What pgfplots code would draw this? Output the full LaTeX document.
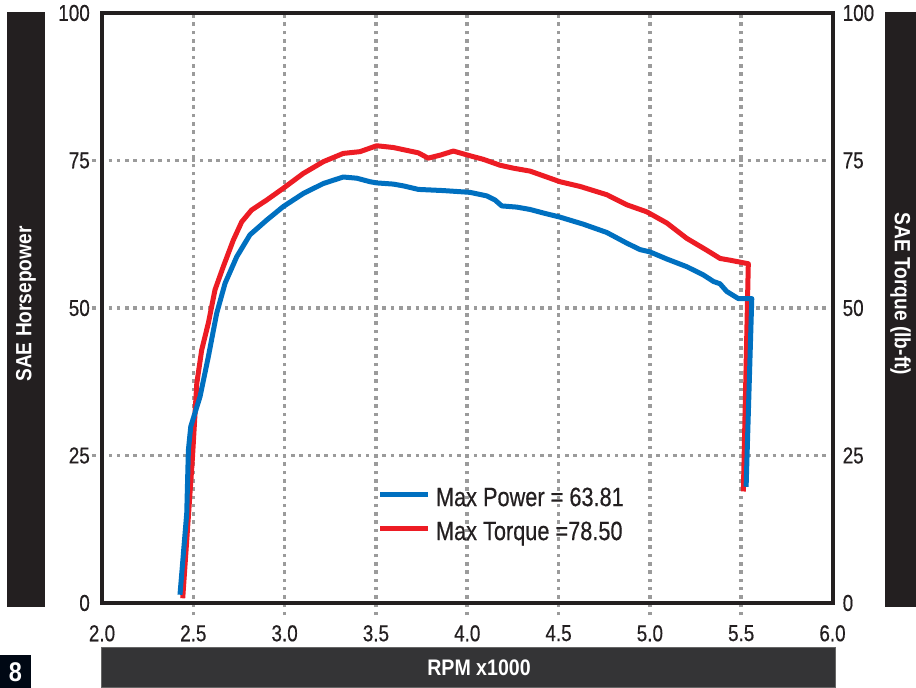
\documentclass[border=0pt]{standalone}
\usepackage{fontspec}
\setmainfont{Liberation Sans}[FakeStretch=0.82, FakeBold=0.45]
\newfontfamily\labfont{Liberation Sans}[FakeStretch=0.87]
\usepackage{pgfplots}
\pgfplotsset{compat=1.18}
\definecolor{ink}{HTML}{231F20}
\definecolor{barc}{HTML}{231F20}
\definecolor{botc}{HTML}{343436}
\definecolor{eightc}{HTML}{000814}
\definecolor{gridc}{RGB}{155,155,155}
\definecolor{pblue}{HTML}{0070C0}
\definecolor{tred}{HTML}{ED1C24}
\begin{document}
\begin{tikzpicture}[x=1pt,y=1pt]
\path (0,0) rectangle (916,688);
% side and bottom bars
\fill[barc] (7,81) rectangle (45,676);
\fill[barc] (885,81) rectangle (916,676);
\filldraw[fill=botc, draw=black!60, line width=1pt] (101.5,0) rectangle (835.5,40);
\fill[eightc] (0,0) rectangle (31,33);
\node[white, font=\labfont\bfseries\fontsize{27}{30}\selectfont] at (15.5,16) {8};
\node[rotate=90, white, font=\labfont\bfseries\fontsize{22}{26}\selectfont] at (26,384) {SAE Horsepower};
\node[rotate=-90, white, font=\labfont\bfseries\fontsize{22}{26}\selectfont] at (900.5,394) {SAE Torque (lb-ft)};
\node[white, font=\labfont\bfseries\fontsize{22.5}{26}\selectfont] at (479,20) {RPM x1000};

\begin{axis}[
  at={(102pt,85pt)}, anchor=south west,
  width=730.5pt, height=590pt, scale only axis,
  xmin=2, xmax=6, ymin=0, ymax=100,
  xtick={2,2.5,3,3.5,4,4.5,5,5.5,6},
  xticklabels={2.0,2.5,3.0,3.5,4.0,4.5,5.0,5.5,6.0},
  ytick={0,25,50,75,100},
  major tick length=0pt,
  tick style={draw=none},
  /pgf/number format/assume math mode=true,
  ticklabel style={font=\fontsize{23}{27}\selectfont, text=ink},
  xticklabel style={anchor=north, inner sep=0pt, yshift=-22pt},
  yticklabel style={anchor=east, inner sep=0pt, xshift=-12pt},
  axis line style={draw=ink, line width=4pt},
  axis on top,
  clip=false,
  reverse legend,
  legend cell align=left,
  legend style={at={(axis cs:3.51,19.6)}, anchor=north west, draw=none, fill=none,
    font=\fontsize{26.5}{30}\selectfont, text=ink, inner sep=0pt, row sep=14pt, column sep=5pt,
    nodes={inner sep=0pt}},
  legend image code/.code={\draw[#1, line width=5pt] (0pt,0.33em) -- (48pt,0.33em);},
]
% dotted grid (extends slightly outside the frame)
\foreach \gx in {2.5,3,3.5,4,4.5,5,5.5} {
  \edef\tmp{\noexpand\draw[gridc, line width=3.6pt, dash pattern=on 3.6pt off 4.7pt] (axis cs:\gx,-2.1) -- (axis cs:\gx,100);}
  \tmp
}
\foreach \gy in {25,50,75} {
  \edef\tmp{\noexpand\draw[gridc, line width=3.6pt, dash pattern=on 3.6pt off 4.7pt] (axis cs:1.945,\gy) -- (axis cs:6.03,\gy);}
  \tmp
}
\addplot[tred, line width=5pt, line join=round, line cap=butt] coordinates {
(2.442,0.8) (2.495,24.5) (2.519,37.2) (2.546,42.9) (2.582,47.4) (2.619,53.1)
(2.664,57.0) (2.719,61.5) (2.765,64.6) (2.819,66.6) (2.902,68.3) (2.993,70.3)
(3.102,72.8) (3.212,74.8) (3.321,76.2) (3.413,76.5) (3.504,77.5) (3.595,77.2)
(3.732,76.3) (3.786,75.4) (3.851,75.9) (3.924,76.6) (4.015,75.8) (4.088,75.2)
(4.179,74.2) (4.252,73.7) (4.344,73.2) (4.417,72.4) (4.508,71.4) (4.618,70.6)
(4.764,69.2) (4.873,67.5) (4.983,66.3) (5.093,64.4) (5.202,61.8) (5.311,59.8)
(5.384,58.4) (5.439,58.1) (5.539,57.5) (5.512,18.9)
};
\addlegendentry{Max Torque =78.50}
\addplot[pblue, line width=5pt, line join=round, line cap=butt] coordinates {
(2.427,1.4) (2.464,15.2) (2.473,25.9) (2.486,29.9) (2.537,35.0) (2.582,41.7)
(2.628,49.1) (2.674,54.2) (2.738,58.7) (2.810,62.4) (2.902,64.9) (2.993,67.2)
(3.102,69.4) (3.212,71.1) (3.321,72.2) (3.395,72.0) (3.468,71.4) (3.504,71.2)
(3.595,71.0) (3.650,70.7) (3.732,70.1) (3.869,69.9) (4.015,69.6) (4.107,69.0)
(4.152,68.3) (4.189,67.3) (4.271,67.1) (4.344,66.7) (4.417,66.1) (4.508,65.4)
(4.636,64.2) (4.764,62.8) (4.873,61.0) (4.946,59.9) (5.001,59.5) (5.093,58.3)
(5.202,57.0) (5.293,55.6) (5.348,54.5) (5.384,54.1) (5.421,52.8) (5.484,51.6)
(5.558,51.6) (5.527,19.7)
};
\addlegendentry{Max Power = 63.81}
\end{axis}

\begin{axis}[
  at={(102pt,85pt)}, anchor=south west,
  width=730.5pt, height=590pt, scale only axis,
  xmin=2, xmax=6, ymin=0, ymax=100,
  xtick=\empty,
  ytick={0,25,50,75,100},
  yticklabel pos=right,
  major tick length=0pt,
  tick style={draw=none},
  axis line style={draw=none},
  /pgf/number format/assume math mode=true,
  ticklabel style={font=\fontsize{23}{27}\selectfont, text=ink},
  yticklabel style={anchor=west, inner sep=0pt, xshift=10pt},
]
\end{axis}
\pgfresetboundingbox
\path[use as bounding box] (0,0) rectangle (916,688);
\end{tikzpicture}
\end{document}
